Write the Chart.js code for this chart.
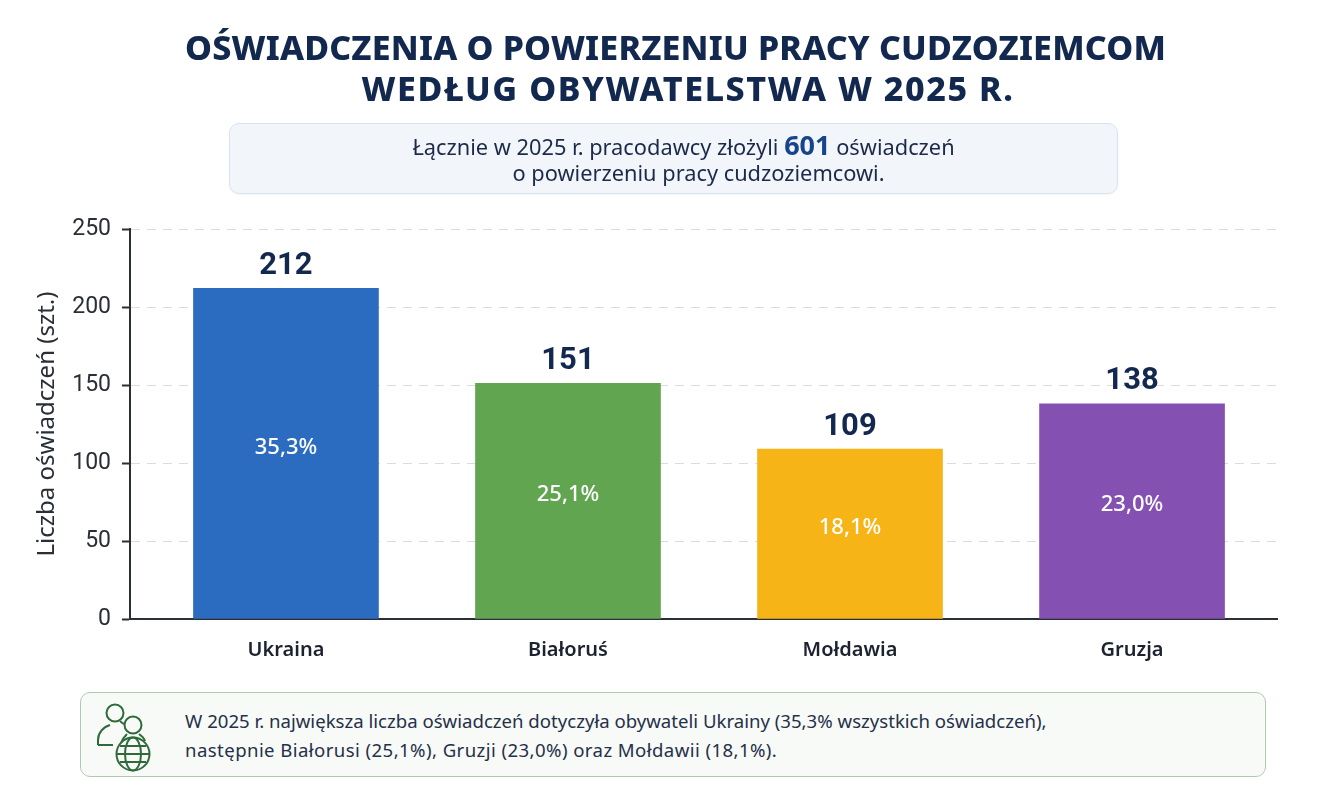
<!DOCTYPE html>
<html lang="pl"><head><meta charset="utf-8">
<script src="https://cdn.jsdelivr.net/npm/chart.js@4/dist/chart.umd.min.js"></script>
<style>
html,body{margin:0;padding:0;background:#fff;width:1322px;height:787px;overflow:hidden;font-family:"Noto Sans",sans-serif}
canvas{position:absolute;left:0;top:0}
.t{position:absolute;white-space:nowrap;font-weight:800;font-size:34px;line-height:41px;color:#12284f;transform:translateX(-50%)}
#t1{left:675.5px;top:27px;letter-spacing:.18px}
#t2{left:688px;top:68px;letter-spacing:1.55px}
#box1{position:absolute;left:229px;top:123px;width:887px;height:69px;background:#f2f5fa;border:1px solid #d9e3f1;border-radius:10px;text-align:center;color:#1c2a4a;font-size:21.8px;line-height:26px;box-shadow:0 1px 2px rgba(0,0,0,.04)}
#box1 div{position:absolute;width:100%;white-space:nowrap}
#box1 b{font-size:27px;color:#17458c;font-weight:700;line-height:20px}
#box2{position:absolute;left:80px;top:692px;width:1184px;height:83px;background:#f8faf7;border:1.5px solid #b0cab0;border-radius:10px;color:#25304a;font-size:18.6px;line-height:29px}
#box2 div{position:absolute;left:104px;white-space:nowrap}
svg{position:absolute;left:95px;top:703px}
</style></head><body>
<canvas id="c" width="1322" height="787"></canvas>
<div class="t" id="t1">OŚWIADCZENIA O POWIERZENIU PRACY CUDZOZIEMCOM</div>
<div class="t" id="t2">WEDŁUG OBYWATELSTWA W 2025 R.</div>
<div id="box1"><div style="top:10px;left:10px">Łącznie w 2025 r. pracodawcy złożyli <b>601</b> oświadczeń</div><div style="top:36px;left:25px">o powierzeniu pracy cudzoziemcowi.</div></div>
<div id="box2"><div style="top:13px">W 2025 r. największa liczba oświadczeń dotyczyła obywateli Ukrainy (35,3% wszystkich oświadczeń),</div><div style="top:42px;letter-spacing:.42px">następnie Białorusi (25,1%), Gruzji (23,0%) oraz Mołdawii (18,1%).</div></div>
<svg width="60" height="72" viewBox="0 0 60 72" fill="none" stroke="#2f6b3a" stroke-width="2">
<circle cx="20" cy="10" r="8.5"/><path d="M3 42v-5c0-7 5-13 12-15M3 42h15M25 18c1 1 2 2 4 3"/>
<circle cx="38" cy="22" r="8.5"/><path d="M26 40c1-3 3-6 6-9M44 31c3 2 5 4 6 7"/>
<circle cx="38" cy="51" r="16.5"/><ellipse cx="38" cy="51" rx="8" ry="16.5"/><path d="M21.5 51h33M25 43h26M25 59h26"/>
</svg>
<script>
const categories = ["Ukraina", "Białoruś", "Mołdawia", "Gruzja"];
const counts = [212, 151, 109, 138];
const shares = ["35,3%", "25,1%", "18,1%", "23,0%"];
const barColors = ["#2b6cc0", "#62a551", "#f6b417", "#8450b2"];
const yTicks = [0, 50, 100, 150, 200, 250];
const labelPlugin = {
  id: "labels",
  afterDatasetsDraw(chart) {
    const ctx = chart.ctx, meta = chart.getDatasetMeta(0);
    ctx.save(); ctx.textAlign = "center"; ctx.textBaseline = "middle";
    meta.data.forEach((bar, i) => {
      ctx.fillStyle = "#12284f"; ctx.font = '700 31px Roboto';
      ctx.fillText(String(counts[i]), bar.x, bar.y - 22);
      ctx.fillStyle = "#ffffff"; ctx.font = '500 22px "Noto Sans"';
      ctx.fillText(shares[i], bar.x, (bar.y + bar.base) / 2 - 6);
    });
    ctx.restore();
  }
};
new Chart(document.getElementById("c"), {
  type: "bar",
  data: { datasets: [{
    data: categories.map((c, i) => ({ x: i, y: counts[i] })),
    backgroundColor: barColors, barThickness: 185, borderWidth: 0
  }]},
  options: {
    responsive: false, animation: false,
    layout: { padding: { top: 229, right: 45, left: 0, bottom: 0 } },
    plugins: { legend: { display: false }, tooltip: { enabled: false } },
    scales: {
      x: {
        type: "linear", offset: false, min: -0.553, max: 3.514,
        grid: { display: false },
        border: { color: "#2b2f36", width: 2 },
        afterBuildTicks(s) { s.ticks = categories.map((c, i) => ({ value: i })); },
        afterFit(s) { s.height = 168; },
        ticks: { autoSkip: false, maxRotation: 0, padding: 11, color: "#1c2230",
          font: { family: "Noto Sans", size: 20, weight: 600 },
          callback: (v) => categories[v] }
      },
      y: {
        min: 0, max: 250,
        afterBuildTicks(s) { s.ticks = yTicks.map(v => ({ value: v })); },
        afterFit(s) { s.width = 130; },
        grid: { color: "#dcdcdc", lineWidth: 1, tickColor: "#2b2f36", tickLength: 8, tickBorderDash: [], tickWidth: 2 },
        border: { color: "#2b2f36", width: 2, dash: [9, 7] },
        ticks: { color: "#2a2e36", padding: 11, font: { family: "Roboto", size: 23 } },
        title: { display: true, text: "Liczba oświadczeń (szt.)", color: "#2a2e36", padding: { top: 33, bottom: 0 },
          font: { family: "Noto Sans", size: 24 } }
      }
    }
  },
  plugins: [labelPlugin]
});
</script>
</body></html>
